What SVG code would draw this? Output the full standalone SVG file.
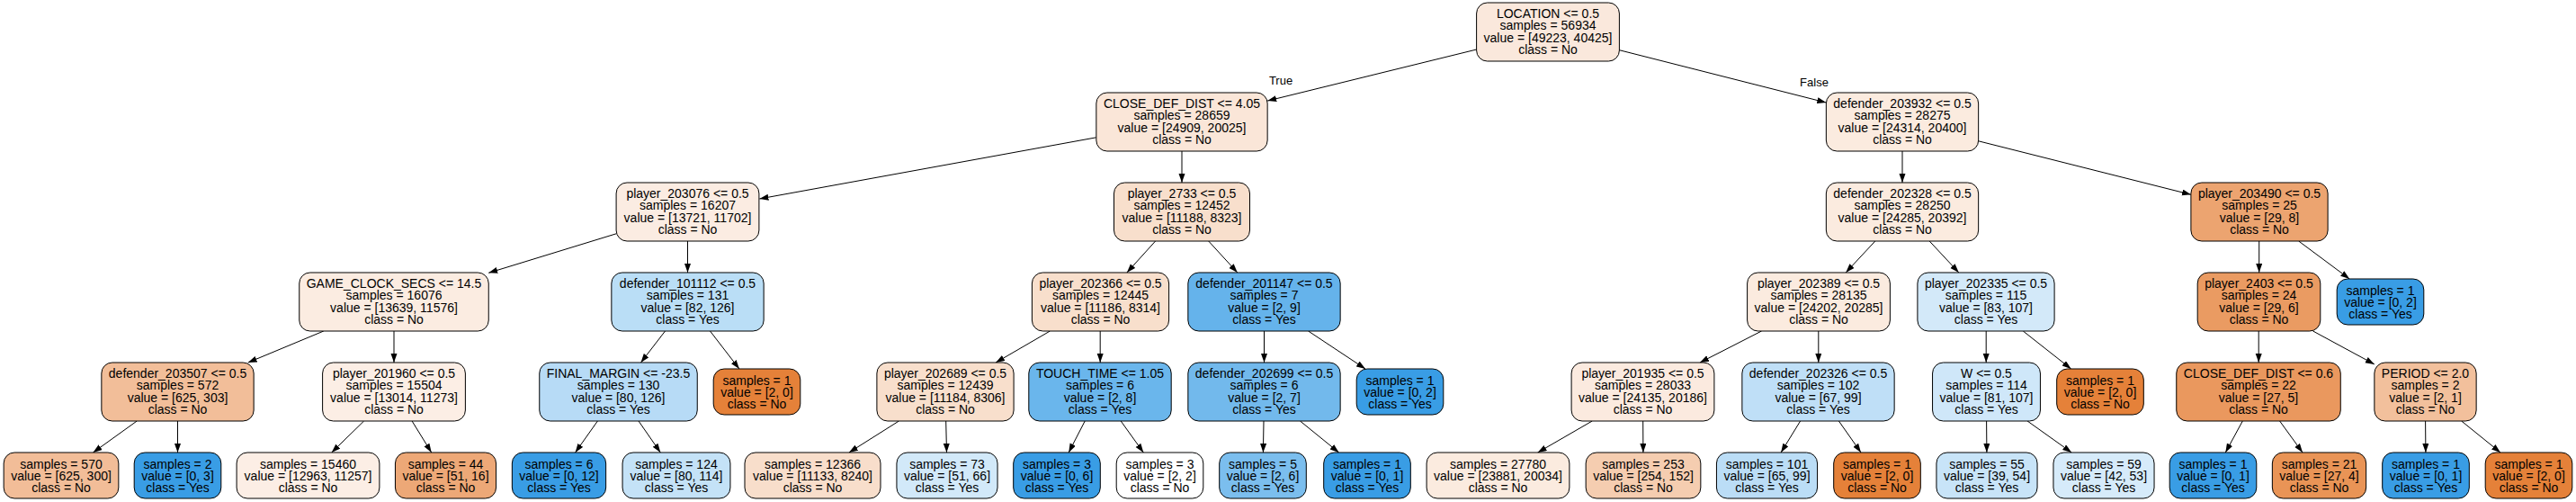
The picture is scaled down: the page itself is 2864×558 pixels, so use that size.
<svg xmlns="http://www.w3.org/2000/svg" width="2864" height="558" viewBox="0 0 2864 558">
<style>
.node rect{stroke:#000;stroke-width:1}
text{font-family:"Liberation Sans",Arial,Helvetica,sans-serif;font-size:14px;text-anchor:middle;fill:#000}
.edges line{stroke:#000;stroke-width:1;marker-end:url(#arr)}
.lbl{font-size:13px}
</style>
<defs>
<marker id="arr" markerUnits="userSpaceOnUse" markerWidth="10" markerHeight="8" refX="10" refY="3.5" orient="auto"><path d="M0,0 L10,3.5 L0,7 z" fill="#000"/></marker>
</defs>
<rect width="2864" height="558" fill="#fff"/>
<g id="connectors" class="edges">
<line x1="1641.6" y1="55" x2="1409.2" y2="112.1"/>
<line x1="1800.4" y1="55.7" x2="2030.3" y2="114"/>
<line x1="1218.8" y1="152.8" x2="844.4" y2="221"/>
<line x1="1314" y1="168" x2="1314" y2="203"/>
<line x1="685.1" y1="259.8" x2="543.25" y2="303.3"/>
<line x1="764.5" y1="268" x2="764.5" y2="303"/>
<line x1="1284.6" y1="268" x2="1252.9" y2="303"/>
<line x1="1343.7" y1="268" x2="1375.8" y2="303"/>
<line x1="2115" y1="168" x2="2115" y2="203"/>
<line x1="2199.7" y1="156.8" x2="2435.9" y2="216.3"/>
<line x1="2084.8" y1="268" x2="2052.2" y2="303"/>
<line x1="2145.2" y1="268" x2="2177.8" y2="303"/>
<line x1="2511.7" y1="268" x2="2511.7" y2="303"/>
<line x1="2555.7" y1="268" x2="2612.2" y2="310"/>
<line x1="359.8" y1="368" x2="275.7" y2="403"/>
<line x1="438" y1="368" x2="438" y2="403"/>
<line x1="739.5" y1="368" x2="712.5" y2="403"/>
<line x1="789.5" y1="368" x2="821.9" y2="410"/>
<line x1="1167.4" y1="368" x2="1107.1" y2="403"/>
<line x1="1223.2" y1="368" x2="1223.2" y2="403"/>
<line x1="1405.5" y1="368" x2="1405.5" y2="403"/>
<line x1="1454.6" y1="368" x2="1518" y2="410"/>
<line x1="1958.5" y1="368" x2="1890" y2="403"/>
<line x1="2021.8" y1="368" x2="2021.8" y2="403"/>
<line x1="2208.2" y1="368" x2="2208.2" y2="403"/>
<line x1="2249.3" y1="368" x2="2302.6" y2="410"/>
<line x1="2511.2" y1="368" x2="2511.2" y2="403"/>
<line x1="2571.6" y1="368" x2="2639.85" y2="404.9"/>
<line x1="152.2" y1="468" x2="103.5" y2="503"/>
<line x1="197.5" y1="468" x2="197.5" y2="503"/>
<line x1="404.6" y1="468" x2="368.7" y2="503"/>
<line x1="458.1" y1="468" x2="479.7" y2="503"/>
<line x1="664.4" y1="468" x2="639.6" y2="503"/>
<line x1="710" y1="468" x2="734.3" y2="503"/>
<line x1="999.4" y1="468" x2="943.9" y2="503"/>
<line x1="1051.7" y1="468" x2="1052.5" y2="503"/>
<line x1="1206.2" y1="468" x2="1188.2" y2="503"/>
<line x1="1246.2" y1="468" x2="1271.3" y2="503"/>
<line x1="1405" y1="468" x2="1404.4" y2="503"/>
<line x1="1445.5" y1="468" x2="1488.6" y2="503"/>
<line x1="1770.2" y1="468" x2="1709.6" y2="503"/>
<line x1="1826.7" y1="468" x2="1826.9" y2="503"/>
<line x1="2001.6" y1="468" x2="1980.1" y2="503"/>
<line x1="2044.4" y1="468" x2="2069" y2="503"/>
<line x1="2208.6" y1="468" x2="2208.9" y2="503"/>
<line x1="2254.1" y1="468" x2="2303.2" y2="503"/>
<line x1="2493.3" y1="468" x2="2474.3" y2="503"/>
<line x1="2534.6" y1="468" x2="2560" y2="503"/>
<line x1="2696.6" y1="468" x2="2696.9" y2="503"/>
<line x1="2736.7" y1="468" x2="2780" y2="503"/>
<text class="lbl" x="1424" y="94">True</text>
<text class="lbl" x="2017" y="96">False</text>
</g>
<g id="n0" class="node"><rect x="1641.6" y="3" width="158.8" height="65" rx="12" fill="#fae8dc"/><text x="1721" y="19.8">LOCATION &lt;= 0.5<tspan x="1721" dy="13.4">samples = 56934</tspan><tspan x="1721" dy="13.4">value = [49223, 40425]</tspan><tspan x="1721" dy="13.4">class = No</tspan></text></g>
<g id="n1" class="node"><rect x="1218.85" y="103" width="190.3" height="65" rx="12" fill="#fae6d8"/><text x="1314" y="119.8">CLOSE_DEF_DIST &lt;= 4.05<tspan x="1314" dy="13.4">samples = 28659</tspan><tspan x="1314" dy="13.4">value = [24909, 20025]</tspan><tspan x="1314" dy="13.4">class = No</tspan></text></g>
<g id="n2" class="node"><rect x="2030.35" y="103" width="169.3" height="65" rx="12" fill="#fbebdf"/><text x="2115" y="119.8">defender_203932 &lt;= 0.5<tspan x="2115" dy="13.4">samples = 28275</tspan><tspan x="2115" dy="13.4">value = [24314, 20400]</tspan><tspan x="2115" dy="13.4">class = No</tspan></text></g>
<g id="n3" class="node"><rect x="685.1" y="203" width="158.8" height="65" rx="12" fill="#fbece2"/><text x="764.5" y="219.8">player_203076 &lt;= 0.5<tspan x="764.5" dy="13.4">samples = 16207</tspan><tspan x="764.5" dy="13.4">value = [13721, 11702]</tspan><tspan x="764.5" dy="13.4">class = No</tspan></text></g>
<g id="n4" class="node"><rect x="1238.5" y="203" width="151" height="65" rx="12" fill="#f8dfcc"/><text x="1314" y="219.8">player_2733 &lt;= 0.5<tspan x="1314" dy="13.4">samples = 12452</tspan><tspan x="1314" dy="13.4">value = [11188, 8323]</tspan><tspan x="1314" dy="13.4">class = No</tspan></text></g>
<g id="n5" class="node"><rect x="2030.35" y="203" width="169.3" height="65" rx="12" fill="#fbebdf"/><text x="2115" y="219.8">defender_202328 &lt;= 0.5<tspan x="2115" dy="13.4">samples = 28250</tspan><tspan x="2115" dy="13.4">value = [24285, 20392]</tspan><tspan x="2115" dy="13.4">class = No</tspan></text></g>
<g id="n6" class="node"><rect x="2435.9" y="203" width="152.2" height="65" rx="12" fill="#eca470"/><text x="2512" y="219.8">player_203490 &lt;= 0.5<tspan x="2512" dy="13.4">samples = 25</tspan><tspan x="2512" dy="13.4">value = [29, 8]</tspan><tspan x="2512" dy="13.4">class = No</tspan></text></g>
<g id="n7" class="node"><rect x="332.75" y="303" width="210.5" height="65" rx="12" fill="#fbece1"/><text x="438" y="319.8">GAME_CLOCK_SECS &lt;= 14.5<tspan x="438" dy="13.4">samples = 16076</tspan><tspan x="438" dy="13.4">value = [13639, 11576]</tspan><tspan x="438" dy="13.4">class = No</tspan></text></g>
<g id="n8" class="node"><rect x="679.85" y="303" width="169.3" height="65" rx="12" fill="#badef6"/><text x="764.5" y="319.8">defender_101112 &lt;= 0.5<tspan x="764.5" dy="13.4">samples = 131</tspan><tspan x="764.5" dy="13.4">value = [82, 126]</tspan><tspan x="764.5" dy="13.4">class = Yes</tspan></text></g>
<g id="n9" class="node"><rect x="1147.4" y="303" width="152.2" height="65" rx="12" fill="#f8dfcc"/><text x="1223.5" y="319.8">player_202366 &lt;= 0.5<tspan x="1223.5" dy="13.4">samples = 12445</tspan><tspan x="1223.5" dy="13.4">value = [11186, 8314]</tspan><tspan x="1223.5" dy="13.4">class = No</tspan></text></g>
<g id="n10" class="node"><rect x="1320.85" y="303" width="169.3" height="65" rx="12" fill="#65b3eb"/><text x="1405.5" y="319.8">defender_201147 &lt;= 0.5<tspan x="1405.5" dy="13.4">samples = 7</tspan><tspan x="1405.5" dy="13.4">value = [2, 9]</tspan><tspan x="1405.5" dy="13.4">class = Yes</tspan></text></g>
<g id="n11" class="node"><rect x="1942.6" y="303" width="158.8" height="65" rx="12" fill="#fbebdf"/><text x="2022" y="319.8">player_202389 &lt;= 0.5<tspan x="2022" dy="13.4">samples = 28135</tspan><tspan x="2022" dy="13.4">value = [24202, 20285]</tspan><tspan x="2022" dy="13.4">class = No</tspan></text></g>
<g id="n12" class="node"><rect x="2131.9" y="303" width="152.2" height="65" rx="12" fill="#d3e9f9"/><text x="2208" y="319.8">player_202335 &lt;= 0.5<tspan x="2208" dy="13.4">samples = 115</tspan><tspan x="2208" dy="13.4">value = [83, 107]</tspan><tspan x="2208" dy="13.4">class = Yes</tspan></text></g>
<g id="n13" class="node"><rect x="2443.2" y="303" width="136.6" height="65" rx="12" fill="#ea9b62"/><text x="2511.5" y="319.8">player_2403 &lt;= 0.5<tspan x="2511.5" dy="13.4">samples = 24</tspan><tspan x="2511.5" dy="13.4">value = [29, 6]</tspan><tspan x="2511.5" dy="13.4">class = No</tspan></text></g>
<g id="n14" class="node"><rect x="2598.2" y="310" width="96.6" height="51" rx="12" fill="#399de5"/><text x="2646.5" y="327.5">samples = 1<tspan x="2646.5" dy="13.4">value = [0, 2]</tspan><tspan x="2646.5" dy="13.4">class = Yes</tspan></text></g>
<g id="n15" class="node"><rect x="112.85" y="403" width="169.3" height="65" rx="12" fill="#f2be99"/><text x="197.5" y="419.8">defender_203507 &lt;= 0.5<tspan x="197.5" dy="13.4">samples = 572</tspan><tspan x="197.5" dy="13.4">value = [625, 303]</tspan><tspan x="197.5" dy="13.4">class = No</tspan></text></g>
<g id="n16" class="node"><rect x="358.6" y="403" width="158.8" height="65" rx="12" fill="#fceee5"/><text x="438" y="419.8">player_201960 &lt;= 0.5<tspan x="438" dy="13.4">samples = 15504</tspan><tspan x="438" dy="13.4">value = [13014, 11273]</tspan><tspan x="438" dy="13.4">class = No</tspan></text></g>
<g id="n17" class="node"><rect x="599.75" y="403" width="175.5" height="65" rx="12" fill="#b7dbf6"/><text x="687.5" y="419.8">FINAL_MARGIN &lt;= -23.5<tspan x="687.5" dy="13.4">samples = 130</tspan><tspan x="687.5" dy="13.4">value = [80, 126]</tspan><tspan x="687.5" dy="13.4">class = Yes</tspan></text></g>
<g id="n18" class="node"><rect x="793.2" y="410" width="96.6" height="51" rx="12" fill="#e58139"/><text x="841.5" y="427.5">samples = 1<tspan x="841.5" dy="13.4">value = [2, 0]</tspan><tspan x="841.5" dy="13.4">class = No</tspan></text></g>
<g id="n19" class="node"><rect x="974.9" y="403" width="152.2" height="65" rx="12" fill="#f8dfcc"/><text x="1051" y="419.8">player_202689 &lt;= 0.5<tspan x="1051" dy="13.4">samples = 12439</tspan><tspan x="1051" dy="13.4">value = [11184, 8306]</tspan><tspan x="1051" dy="13.4">class = No</tspan></text></g>
<g id="n20" class="node"><rect x="1143.8" y="403" width="158.4" height="65" rx="12" fill="#6ab6ec"/><text x="1223" y="419.8">TOUCH_TIME &lt;= 1.05<tspan x="1223" dy="13.4">samples = 6</tspan><tspan x="1223" dy="13.4">value = [2, 8]</tspan><tspan x="1223" dy="13.4">class = Yes</tspan></text></g>
<g id="n21" class="node"><rect x="1320.85" y="403" width="169.3" height="65" rx="12" fill="#72b9ec"/><text x="1405.5" y="419.8">defender_202699 &lt;= 0.5<tspan x="1405.5" dy="13.4">samples = 6</tspan><tspan x="1405.5" dy="13.4">value = [2, 7]</tspan><tspan x="1405.5" dy="13.4">class = Yes</tspan></text></g>
<g id="n22" class="node"><rect x="1508.2" y="410" width="96.6" height="51" rx="12" fill="#399de5"/><text x="1556.5" y="427.5">samples = 1<tspan x="1556.5" dy="13.4">value = [0, 2]</tspan><tspan x="1556.5" dy="13.4">class = Yes</tspan></text></g>
<g id="n23" class="node"><rect x="1747.1" y="403" width="158.8" height="65" rx="12" fill="#fbeadf"/><text x="1826.5" y="419.8">player_201935 &lt;= 0.5<tspan x="1826.5" dy="13.4">samples = 28033</tspan><tspan x="1826.5" dy="13.4">value = [24135, 20186]</tspan><tspan x="1826.5" dy="13.4">class = No</tspan></text></g>
<g id="n24" class="node"><rect x="1936.85" y="403" width="169.3" height="65" rx="12" fill="#bfdff7"/><text x="2021.5" y="419.8">defender_202326 &lt;= 0.5<tspan x="2021.5" dy="13.4">samples = 102</tspan><tspan x="2021.5" dy="13.4">value = [67, 99]</tspan><tspan x="2021.5" dy="13.4">class = Yes</tspan></text></g>
<g id="n25" class="node"><rect x="2148.55" y="403" width="119.9" height="65" rx="12" fill="#cfe7f9"/><text x="2208.5" y="419.8">W &lt;= 0.5<tspan x="2208.5" dy="13.4">samples = 114</tspan><tspan x="2208.5" dy="13.4">value = [81, 107]</tspan><tspan x="2208.5" dy="13.4">class = Yes</tspan></text></g>
<g id="n26" class="node"><rect x="2286.7" y="410" width="96.6" height="51" rx="12" fill="#e58139"/><text x="2335" y="427.5">samples = 1<tspan x="2335" dy="13.4">value = [2, 0]</tspan><tspan x="2335" dy="13.4">class = No</tspan></text></g>
<g id="n27" class="node"><rect x="2419.75" y="403" width="182.5" height="65" rx="12" fill="#ea985e"/><text x="2511" y="419.8">CLOSE_DEF_DIST &lt;= 0.6<tspan x="2511" dy="13.4">samples = 22</tspan><tspan x="2511" dy="13.4">value = [27, 5]</tspan><tspan x="2511" dy="13.4">class = No</tspan></text></g>
<g id="n28" class="node"><rect x="2639.85" y="403" width="113.3" height="65" rx="12" fill="#f2c09c"/><text x="2696.5" y="419.8">PERIOD &lt;= 2.0<tspan x="2696.5" dy="13.4">samples = 2</tspan><tspan x="2696.5" dy="13.4">value = [2, 1]</tspan><tspan x="2696.5" dy="13.4">class = No</tspan></text></g>
<g id="n29" class="node"><rect x="4.15" y="503" width="127.7" height="51" rx="12" fill="#f2bd98"/><text x="68" y="520.5">samples = 570<tspan x="68" dy="13.4">value = [625, 300]</tspan><tspan x="68" dy="13.4">class = No</tspan></text></g>
<g id="n30" class="node"><rect x="149.2" y="503" width="96.6" height="51" rx="12" fill="#399de5"/><text x="197.5" y="520.5">samples = 2<tspan x="197.5" dy="13.4">value = [0, 3]</tspan><tspan x="197.5" dy="13.4">class = Yes</tspan></text></g>
<g id="n31" class="node"><rect x="263.1" y="503" width="158.8" height="51" rx="12" fill="#fceee5"/><text x="342.5" y="520.5">samples = 15460<tspan x="342.5" dy="13.4">value = [12963, 11257]</tspan><tspan x="342.5" dy="13.4">class = No</tspan></text></g>
<g id="n32" class="node"><rect x="439.45" y="503" width="112.1" height="51" rx="12" fill="#eda877"/><text x="495.5" y="520.5">samples = 44<tspan x="495.5" dy="13.4">value = [51, 16]</tspan><tspan x="495.5" dy="13.4">class = No</tspan></text></g>
<g id="n33" class="node"><rect x="569.35" y="503" width="104.3" height="51" rx="12" fill="#399de5"/><text x="621.5" y="520.5">samples = 6<tspan x="621.5" dy="13.4">value = [0, 12]</tspan><tspan x="621.5" dy="13.4">class = Yes</tspan></text></g>
<g id="n34" class="node"><rect x="692.05" y="503" width="119.9" height="51" rx="12" fill="#c4e2f7"/><text x="752" y="520.5">samples = 124<tspan x="752" dy="13.4">value = [80, 114]</tspan><tspan x="752" dy="13.4">class = Yes</tspan></text></g>
<g id="n35" class="node"><rect x="828" y="503" width="151" height="51" rx="12" fill="#f8decb"/><text x="903.5" y="520.5">samples = 12366<tspan x="903.5" dy="13.4">value = [11133, 8240]</tspan><tspan x="903.5" dy="13.4">class = No</tspan></text></g>
<g id="n36" class="node"><rect x="996.95" y="503" width="112.1" height="51" rx="12" fill="#d2e9f9"/><text x="1053" y="520.5">samples = 73<tspan x="1053" dy="13.4">value = [51, 66]</tspan><tspan x="1053" dy="13.4">class = Yes</tspan></text></g>
<g id="n37" class="node"><rect x="1126.7" y="503" width="96.6" height="51" rx="12" fill="#399de5"/><text x="1175" y="520.5">samples = 3<tspan x="1175" dy="13.4">value = [0, 6]</tspan><tspan x="1175" dy="13.4">class = Yes</tspan></text></g>
<g id="n38" class="node"><rect x="1241.2" y="503" width="96.6" height="51" rx="12" fill="#ffffff"/><text x="1289.5" y="520.5">samples = 3<tspan x="1289.5" dy="13.4">value = [2, 2]</tspan><tspan x="1289.5" dy="13.4">class = No</tspan></text></g>
<g id="n39" class="node"><rect x="1355.7" y="503" width="96.6" height="51" rx="12" fill="#7bbeee"/><text x="1404" y="520.5">samples = 5<tspan x="1404" dy="13.4">value = [2, 6]</tspan><tspan x="1404" dy="13.4">class = Yes</tspan></text></g>
<g id="n40" class="node"><rect x="1471.7" y="503" width="96.6" height="51" rx="12" fill="#399de5"/><text x="1520" y="520.5">samples = 1<tspan x="1520" dy="13.4">value = [0, 1]</tspan><tspan x="1520" dy="13.4">class = Yes</tspan></text></g>
<g id="n41" class="node"><rect x="1586.1" y="503" width="158.8" height="51" rx="12" fill="#fbebdf"/><text x="1665.5" y="520.5">samples = 27780<tspan x="1665.5" dy="13.4">value = [23881, 20034]</tspan><tspan x="1665.5" dy="13.4">class = No</tspan></text></g>
<g id="n42" class="node"><rect x="1763.15" y="503" width="127.7" height="51" rx="12" fill="#f5cdb0"/><text x="1827" y="520.5">samples = 253<tspan x="1827" dy="13.4">value = [254, 152]</tspan><tspan x="1827" dy="13.4">class = No</tspan></text></g>
<g id="n43" class="node"><rect x="1908.45" y="503" width="112.1" height="51" rx="12" fill="#bbddf6"/><text x="1964.5" y="520.5">samples = 101<tspan x="1964.5" dy="13.4">value = [65, 99]</tspan><tspan x="1964.5" dy="13.4">class = Yes</tspan></text></g>
<g id="n44" class="node"><rect x="2038.7" y="503" width="96.6" height="51" rx="12" fill="#e58139"/><text x="2087" y="520.5">samples = 1<tspan x="2087" dy="13.4">value = [2, 0]</tspan><tspan x="2087" dy="13.4">class = No</tspan></text></g>
<g id="n45" class="node"><rect x="2152.95" y="503" width="112.1" height="51" rx="12" fill="#c8e4f8"/><text x="2209" y="520.5">samples = 55<tspan x="2209" dy="13.4">value = [39, 54]</tspan><tspan x="2209" dy="13.4">class = Yes</tspan></text></g>
<g id="n46" class="node"><rect x="2282.95" y="503" width="112.1" height="51" rx="12" fill="#d6ebfa"/><text x="2339" y="520.5">samples = 59<tspan x="2339" dy="13.4">value = [42, 53]</tspan><tspan x="2339" dy="13.4">class = Yes</tspan></text></g>
<g id="n47" class="node"><rect x="2412.2" y="503" width="96.6" height="51" rx="12" fill="#399de5"/><text x="2460.5" y="520.5">samples = 1<tspan x="2460.5" dy="13.4">value = [0, 1]</tspan><tspan x="2460.5" dy="13.4">class = Yes</tspan></text></g>
<g id="n48" class="node"><rect x="2526.35" y="503" width="104.3" height="51" rx="12" fill="#e99456"/><text x="2578.5" y="520.5">samples = 21<tspan x="2578.5" dy="13.4">value = [27, 4]</tspan><tspan x="2578.5" dy="13.4">class = No</tspan></text></g>
<g id="n49" class="node"><rect x="2648.7" y="503" width="96.6" height="51" rx="12" fill="#399de5"/><text x="2697" y="520.5">samples = 1<tspan x="2697" dy="13.4">value = [0, 1]</tspan><tspan x="2697" dy="13.4">class = Yes</tspan></text></g>
<g id="n50" class="node"><rect x="2763.2" y="503" width="96.6" height="51" rx="12" fill="#e58139"/><text x="2811.5" y="520.5">samples = 1<tspan x="2811.5" dy="13.4">value = [2, 0]</tspan><tspan x="2811.5" dy="13.4">class = No</tspan></text></g>
</svg>
